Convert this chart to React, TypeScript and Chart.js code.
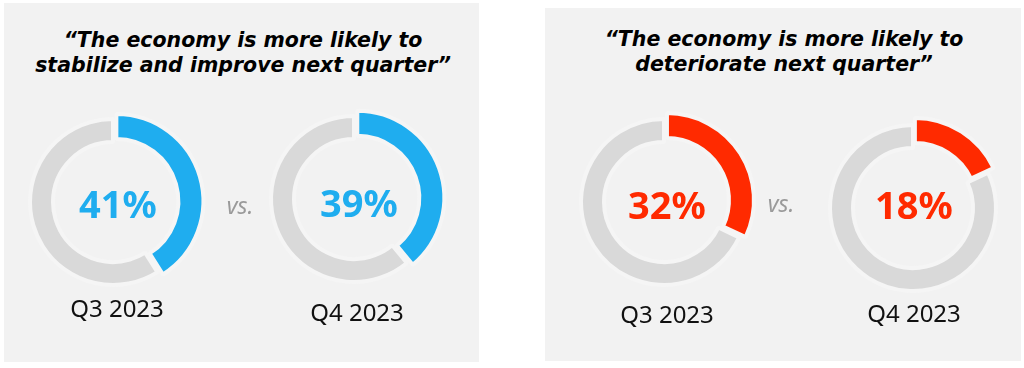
import React, { useEffect, useRef } from "react";
import { Chart, registerables } from "chart.js";

Chart.register(...registerables);

// ---------- data ----------
const panelTitles: string[][] = [
  ["\u201CThe economy is more likely to", "stabilize and improve next quarter\u201D"],
  ["\u201CThe economy is more likely to", "deteriorate next quarter\u201D"],
];
const quarters: string[] = ["Q3 2023", "Q4 2023"];
const improveValues: number[] = [41, 39];
const deteriorateValues: number[] = [32, 18];
const compareLabel = "vs.";

// ---------- styles ----------
const FONT = "'Noto Sans', 'Open Sans', sans-serif";
const TITLE_FONT = "'DejaVu Sans', 'Noto Sans', sans-serif";
const BLUE = "#1FADEF";
const RED = "#FF2A00";
const RING_GRAY = "#D9D9D9";
const PANEL_BG = "#F2F2F2";
const GAP_COLOR = "#F5F5F5";

type DonutLayout = { cx: number; cy: number; tx: number; ty: number; lx: number; ly: number };

const panels = [
  {
    left: 4, top: 3, width: 475, height: 359,
    titleX: 243, titleY: 28,
    values: improveValues, color: BLUE,
    vs: { x: 240, y: 205 },
    donuts: [
      { cx: 113, cy: 202, tx: 118, ty: 203, lx: 117, ly: 308 },
      { cx: 354, cy: 198.5, tx: 359, ty: 202, lx: 357, ly: 312 },
    ] as DonutLayout[],
  },
  {
    left: 545, top: 8, width: 476, height: 353,
    titleX: 784, titleY: 27,
    values: deteriorateValues, color: RED,
    vs: { x: 781, y: 203 },
    donuts: [
      { cx: 664, cy: 202, tx: 667, ty: 204, lx: 667, ly: 314 },
      { cx: 912.5, cy: 208, tx: 914, ty: 204, lx: 914, ly: 313 },
    ] as DonutLayout[],
  },
];

const CANVAS = 210;
const BW = 4;

const ringAdjust = {
  id: "ringAdjust",
  afterDatasetUpdate(chart: any, args: any) {
    const meta = args.meta;
    meta.data.forEach((arc: any, i: number) => {
      if (i === 0) {
        arc.outerRadius = 85 + BW / 2;
        arc.innerRadius = 64 - BW / 2;
        const mid = (arc.startAngle + arc.endAngle) / 2;
        arc.x += Math.cos(mid) * 3.5;
        arc.y += Math.sin(mid) * 3.5;
      } else {
        arc.outerRadius = 81 + BW / 2;
        arc.innerRadius = 62 - BW / 2;
      }
    });
  },
};

function Donut({ value, color }: { value: number; color: string }) {
  const ref = useRef<HTMLCanvasElement>(null);
  useEffect(() => {
    if (!ref.current) return;
    const chart = new Chart(ref.current, {
      type: "doughnut",
      data: {
        labels: ["share", "rest"],
        datasets: [
          {
            data: [value, 100 - value],
            backgroundColor: [color, RING_GRAY],
            borderColor: GAP_COLOR,
            borderWidth: BW,
          },
        ],
      },
      options: {
        animation: false,
        responsive: false,
        maintainAspectRatio: false,
        events: [],
        cutout: "75%",
        layout: { padding: 0 },
        plugins: { legend: { display: false }, tooltip: { enabled: false } },
      },
      plugins: [ringAdjust],
    });
    return () => chart.destroy();
  }, [value, color]);
  return <canvas ref={ref} width={CANVAS} height={CANVAS} style={{ width: CANVAS, height: CANVAS, display: "block" }} />;
}

const abs = (x: number, y: number): React.CSSProperties => ({
  position: "absolute",
  left: x,
  top: y,
  transform: "translate(-50%, -50%)",
  whiteSpace: "nowrap",
  lineHeight: 1,
});

export default function App() {
  return (
    <div style={{ position: "fixed", left: 0, top: 0, width: 1024, height: 368, background: "#fff", overflow: "hidden", fontFamily: FONT }}>
      {panels.map((p, pi) => (
        <div key={"bg" + pi} style={{ position: "absolute", left: p.left, top: p.top, width: p.width, height: p.height, background: PANEL_BG }} />
      ))}
      {panels.map((p, pi) => (
        <React.Fragment key={"p" + pi}>
          <div
            style={{
              position: "absolute",
              left: p.titleX,
              top: p.titleY,
              transform: "translateX(-50%)",
              textAlign: "center",
              fontFamily: TITLE_FONT,
              fontWeight: 700,
              fontStyle: "italic",
              fontSize: 20.5,
              lineHeight: "25px",
              color: "#000",
              whiteSpace: "nowrap",
            }}
          >
            {panelTitles[pi].map((line, li) => (
              <div key={li}>{line}</div>
            ))}
          </div>
          {p.donuts.map((d, di) => (
            <React.Fragment key={di}>
              <div style={{ position: "absolute", left: d.cx - CANVAS / 2, top: d.cy - CANVAS / 2 }}>
                <Donut value={p.values[di]} color={p.color} />
              </div>
              <div style={{ ...abs(d.tx, d.ty), fontSize: 38, fontWeight: 700, color: p.color }}>
                {p.values[di]}%
              </div>
              <div style={{ ...abs(d.lx, d.ly), fontSize: 24, fontWeight: 400, color: "#111" }}>{quarters[di]}</div>
            </React.Fragment>
          ))}
          <div style={{ ...abs(p.vs.x, p.vs.y), fontSize: 23, fontStyle: "italic", color: "#9a9a9a" }}>{compareLabel}</div>
        </React.Fragment>
      ))}
    </div>
  );
}
